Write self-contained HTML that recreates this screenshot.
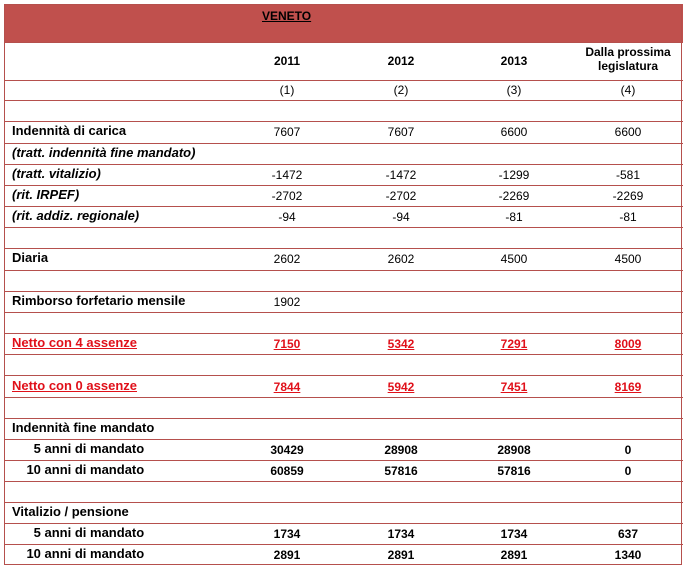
<!DOCTYPE html>
<html><head><meta charset="utf-8"><style>
body{margin:0;width:688px;height:568px;background:#fff;font-family:"Liberation Sans",Arial,sans-serif;font-size:12px;color:#000;position:relative;overflow:hidden}
.frame{position:absolute;left:4px;top:4px;width:678px;height:561px;border:1px solid #b5504d;box-sizing:border-box}
.hdr{position:absolute;left:4px;top:4px;width:679px;height:38px;background:#c0504d}
.line{position:absolute;left:4px;width:679px;height:1px;background:#b5504d}
.t{position:absolute;white-space:nowrap;line-height:14px}
.lab{font-size:13px}
.c{transform:translateX(-50%);text-align:center}
.b{font-weight:bold}
.i{font-style:italic;font-weight:bold}
.r{color:#e0101a;font-weight:bold;text-decoration:underline}
</style></head><body>
<div class="hdr"></div>
<div class="frame"></div>
<div class="t b" style="left:262px;top:9px;text-decoration:underline">VENETO</div>
<div id="lines"></div>
<div class="t b c" style="left:287px;top:54px">2011</div>
<div class="t b c" style="left:401px;top:54px">2012</div>
<div class="t b c" style="left:514px;top:54px">2013</div>
<div class="t b c" style="left:628px;top:45px">Dalla prossima<br>legislatura</div>
<div class="t c" style="left:287px;top:83px">(1)</div>
<div class="t c" style="left:401px;top:83px">(2)</div>
<div class="t c" style="left:514px;top:83px">(3)</div>
<div class="t c" style="left:628px;top:83px">(4)</div>
<script>
var ys=[42,80,100,121,143,164,185,206,227,248,270,291,312,333,354,375,397,418,439,460,481,502,523,544];
var h='';ys.forEach(function(y){h+='<div class="line" style="top:'+y+'px"></div>'});
document.getElementById('lines').innerHTML=h;
var rows=[
[124,'Indennità di carica','b',['7607','7607','6600','6600'],''],
[146,'(tratt. indennità fine mandato)','i',['','','',''],''],
[167,'(tratt. vitalizio)','i',['-1472','-1472','-1299','-581'],''],
[188,'(rit. IRPEF)','i',['-2702','-2702','-2269','-2269'],''],
[209,'(rit. addiz. regionale)','i',['-94','-94','-81','-81'],''],
[251,'Diaria','b',['2602','2602','4500','4500'],''],
[294,'Rimborso forfetario mensile','b',['1902','','',''],''],
[336,'Netto con 4 assenze','r',['7150','5342','7291','8009'],'r'],
[379,'Netto con 0 assenze','r',['7844','5942','7451','8169'],'r'],
[421,'Indennità fine mandato','b',['','','',''],''],
[442,'&nbsp;&nbsp;&nbsp;&nbsp;&nbsp;&nbsp;5 anni di mandato','b',['30429','28908','28908','0'],'b'],
[463,'&nbsp;&nbsp;&nbsp;&nbsp;10 anni di mandato','b',['60859','57816','57816','0'],'b'],
[505,'Vitalizio / pensione','b',['','','',''],''],
[526,'&nbsp;&nbsp;&nbsp;&nbsp;&nbsp;&nbsp;5 anni di mandato','b',['1734','1734','1734','637'],'b'],
[547,'&nbsp;&nbsp;&nbsp;&nbsp;10 anni di mandato','b',['2891','2891','2891','1340'],'b']
];
var xs=[287,401,514,628];var o='';
rows.forEach(function(r){
o+='<div class="t lab '+r[2]+'" style="left:12px;top:'+r[0]+'px">'+r[1]+'</div>';
r[3].forEach(function(v,i){if(v)o+='<div class="t c '+r[4]+'" style="left:'+xs[i]+'px;top:'+(r[0]+1)+'px">'+v+'</div>'});
});
document.body.insertAdjacentHTML('beforeend',o);
</script>
</body></html>
